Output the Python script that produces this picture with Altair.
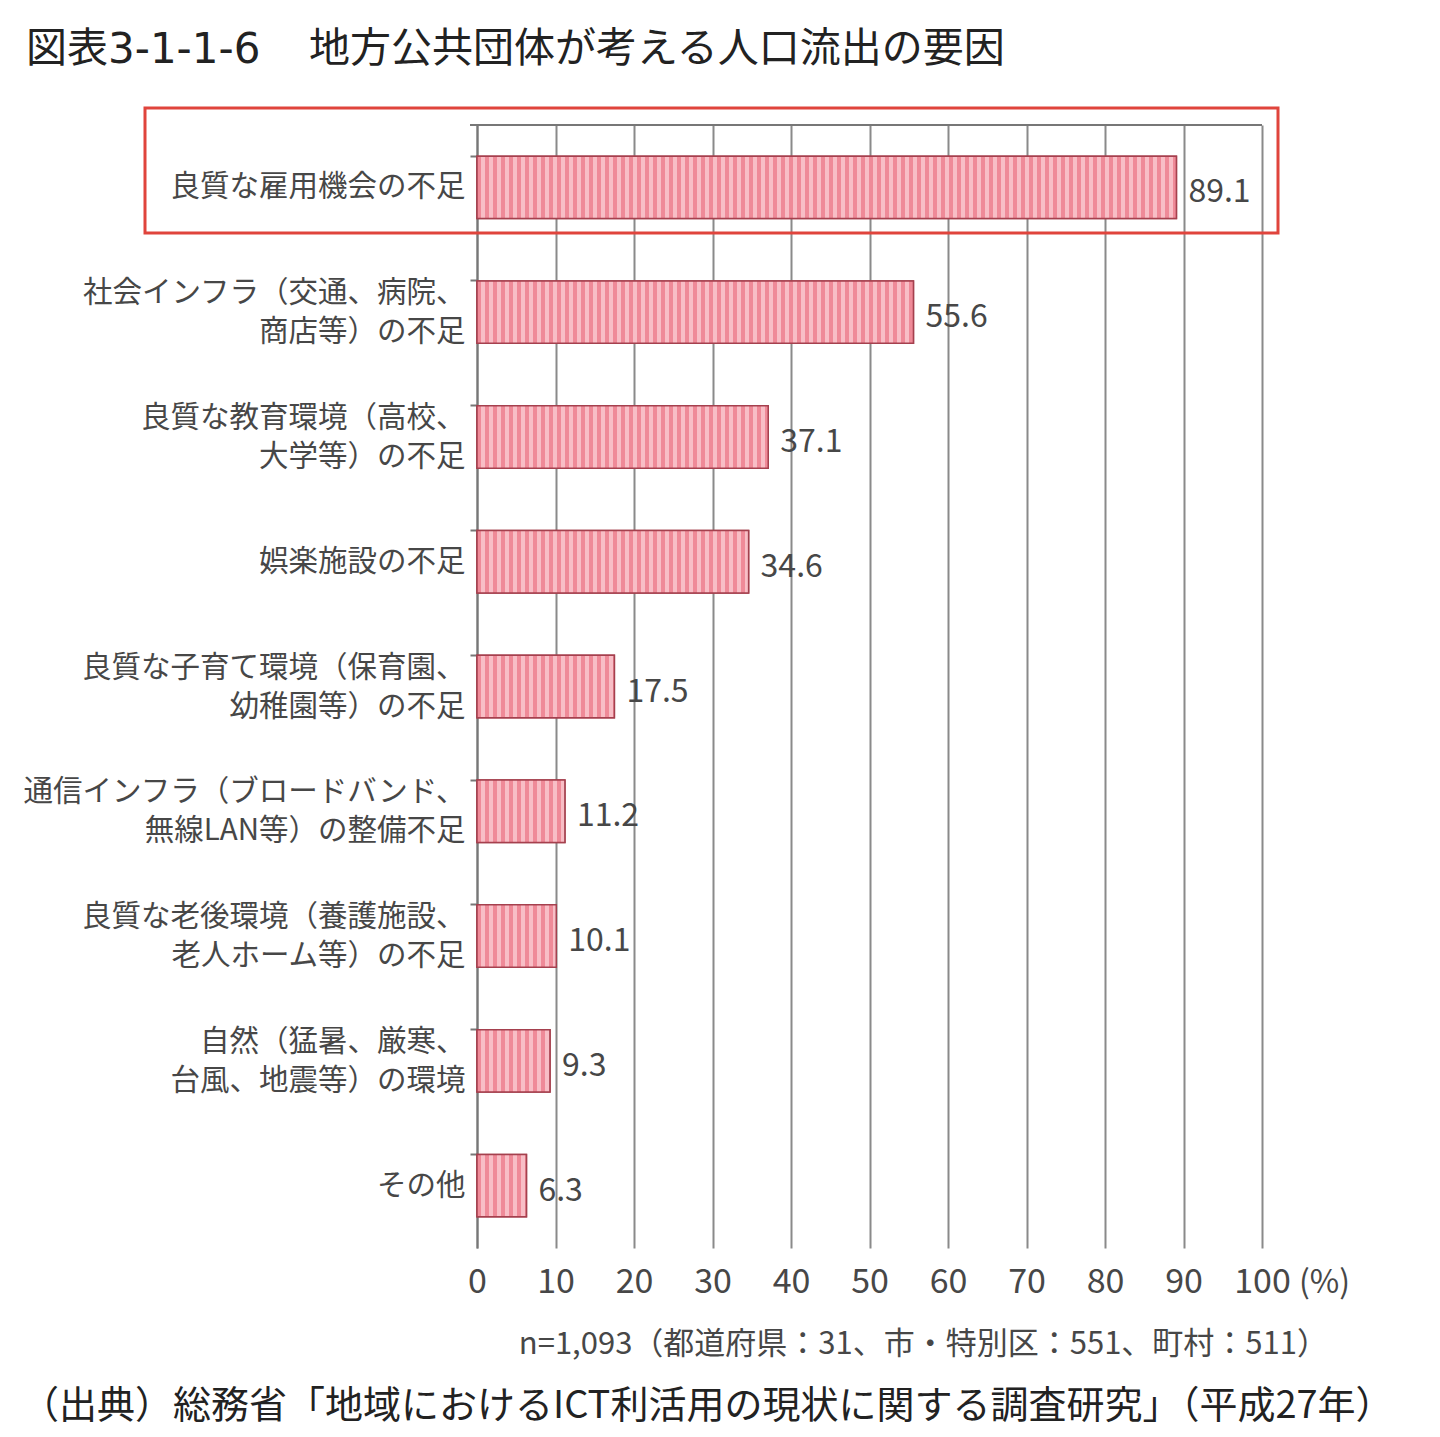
import altair as alt
import pandas as pd

categories = [
    "良質な雇用機会の不足",
    "社会インフラ（交通、病院、|商店等）の不足",
    "良質な教育環境（高校、|大学等）の不足",
    "娯楽施設の不足",
    "良質な子育て環境（保育園、|幼稚園等）の不足",
    "通信インフラ（ブロードバンド、|無線LAN等）の整備不足",
    "良質な老後環境（養護施設、|老人ホーム等）の不足",
    "自然（猛暑、厳寒、|台風、地震等）の環境",
    "その他",
]
values = [89.1, 55.6, 37.1, 34.6, 17.5, 11.2, 10.1, 9.3, 6.3]
x_ticks = [0, 10, 20, 30, 40, 50, 60, 70, 80, 90, 100]

title_head = "図表"
title_num = "3-1-1-6"
title_body = "地方公共団体が考える人口流出の要因"
note_text = "n=1,093（都道府県：31、市・特別区：551、町村：511）"
source_text = "（出典）総務省「地域におけるICT利活用の現状に関する調査研究」（平成27年）"

FONT = "Noto Sans CJK JP"
GRAY = "#474747"
DARK_STRIPE = "#ef8a98"
LIGHT_STRIPE = "#f8bec6"

df = pd.DataFrame({"cat": categories, "val": values, "lab": [f"{v:.1f}" for v in values]})

W, H = 785, 1123
PX_PER_UNIT = W / 100.0
STRIPE_PERIOD = 8.0


def stripe_fill(v):
    """Vertical-stripe fill for a bar of value v (pure styling)."""
    n = v * PX_PER_UNIT / STRIPE_PERIOD
    stops = []
    k = 0
    while k / n < 1:
        a = k / n
        b = min((k + 0.45) / n, 1)
        c = min((k + 1) / n, 1)
        stops += [
            {"offset": a, "color": DARK_STRIPE},
            {"offset": b, "color": DARK_STRIPE},
            {"offset": b, "color": LIGHT_STRIPE},
            {"offset": c, "color": LIGHT_STRIPE},
        ]
        k += 1
    return {"gradient": "linear", "x1": 0, "y1": 0, "x2": 1, "y2": 0, "stops": stops}


y_scale = alt.Scale(domain=categories, paddingInner=0.5, paddingOuter=0.25)
y_enc = alt.Y(
    "cat:N", title=None, scale=y_scale,
    axis=alt.Axis(
        labelExpr="split(datum.label, '|')",
        labelFont=FONT, labelFontSize=29.5, labelColor=GRAY,
        labelLineHeight=39, labelPadding=5, labelLimit=0,
        labelOffset={"condition": {"test": "indexof(datum.value, '|') >= 0", "value": -19}, "value": 0},
        tickSize=7, tickColor="#777", tickWidth=2, bandPosition=0,
        domainColor="#777", domainWidth=2, grid=False,
    ),
)
x_enc = alt.X(
    "val:Q", title=None,
    scale=alt.Scale(domain=[0, 100], nice=False),
    axis=alt.Axis(
        values=x_ticks, grid=True, gridColor="#8a8a8a", gridWidth=2,
        domain=False, ticks=False, labelFont=FONT, labelFontSize=34,
        labelColor=GRAY, labelPadding=17, labelFlush=False,
    ),
)

base = alt.Chart(df)
bars = base.mark_bar(fill="#f3a3ad", stroke="#a5404e", strokeWidth=1.5).encode(x=x_enc, y=y_enc)

stripe_layers = []
for cat, v in zip(categories, values):
    stripe_layers.append(
        alt.Chart(df).transform_filter(alt.datum.cat == cat)
        .mark_bar(fill=stripe_fill(v), stroke="#a5404e", strokeWidth=1.5)
        .encode(x="val:Q", y=alt.Y("cat:N", scale=y_scale))
    )

vlabels = base.mark_text(align="left", baseline="middle", dx=12, dy=5, font=FONT, fontSize=32, color=GRAY).encode(
    x="val:Q", y=alt.Y("cat:N", scale=y_scale), text="lab:N"
)

one = alt.Data(values=[{}])
top_rule = alt.Chart(one).mark_rule(color="#777", strokeWidth=2).encode(
    x=alt.value(-7), x2=alt.value(W), y=alt.value(0)
)
red_box = alt.Chart(one).mark_rect(fillOpacity=0, stroke="#e0443c", strokeWidth=3).encode(
    x=alt.value(-332), x2=alt.value(801), y=alt.value(-17), y2=alt.value(108)
)
pct = alt.Chart(one).mark_text(align="left", baseline="middle", font=FONT, fontSize=32, color=GRAY).encode(
    x=alt.value(822), y=alt.value(1158), text=alt.value("(%)")
)
title1 = alt.Chart(one).mark_text(align="left", baseline="middle", font=FONT, fontSize=41, color="#222").encode(
    x=alt.value(-451), y=alt.value(-75), text=alt.value(title_head)
)
title_n = alt.Chart(one).mark_text(align="left", baseline="middle", font="DejaVu Sans", fontSize=42, color="#222").encode(
    x=alt.value(-369), y=alt.value(-75), text=alt.value(title_num)
)
title2 = alt.Chart(one).mark_text(align="left", baseline="middle", font=FONT, fontSize=41, color="#222").encode(
    x=alt.value(-168), y=alt.value(-75), text=alt.value(title_body)
)
note = alt.Chart(one).mark_text(align="right", baseline="middle", font=FONT, fontSize=31, color=GRAY).encode(
    x=alt.value(851), y=alt.value(1220), text=alt.value(note_text)
)
source = alt.Chart(one).mark_text(align="left", baseline="middle", font=FONT, fontSize=38, color="#222").encode(
    x=alt.value(-456), y=alt.value(1282), text=alt.value(source_text)
)

chart = alt.layer(bars, *stripe_layers, vlabels, top_rule, red_box, pct, title1, title_n, title2, note, source).properties(
    width=W, height=H,
    padding={"left": 469, "top": 117, "right": 160, "bottom": 185},
    autosize=alt.AutoSizeParams(type="none"),
).configure_view(stroke=None)

chart.save("out.html", embed_options={"renderer": "svg", "actions": False})
